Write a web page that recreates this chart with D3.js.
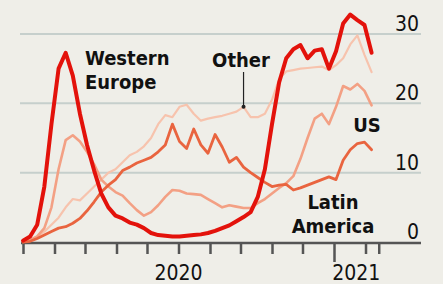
<!DOCTYPE html>
<html>
<head>
<meta charset="utf-8">
<script src="https://cdn.jsdelivr.net/npm/d3@7"></script>
<style>
  html, body { margin: 0; padding: 0; background: #efeee8; }
  svg { display: block; }
  text { font-family: "Liberation Sans Narrow", "DejaVu Sans Condensed", "Liberation Sans", sans-serif; }
</style>
</head>
<body>
<svg width="443" height="284"></svg>
<script>
// weekly values, starting 1 Mar 2020
var weeks = 50;
var westernEurope = [0.2, 0.8, 2.5, 8, 17, 25, 27.3, 24, 18.5, 14, 10.3, 7, 5, 3.8, 3.4,
  2.8, 2.5, 2.0, 1.3, 1.0, 0.9, 0.8, 0.8, 0.9, 1.0, 1.1, 1.3, 1.6, 2.0, 2.4, 3.0,
  3.6, 4.3, 6.5, 10.5, 17, 23, 26.5, 27.8, 28.4, 26.5, 27.6, 27.8, 25, 27.5, 31.5,
  32.8, 32, 31.3, 27.3];
var other = [0, 0.3, 0.8, 1.5, 2.5, 3.5, 5, 6.2, 6, 7, 8, 9, 10, 10.5, 11.5,
  12.5, 13, 13.8, 15, 17, 18.3, 18, 19.5, 19.8, 18.5, 17.5, 17.8, 18, 18.2, 18.5, 18.8,
  19.5, 18, 18, 18.5, 20.5, 23.5, 24.6, 24.8, 25, 25.1, 25.2, 25.3, 24.8, 25.5, 26.5,
  28.5, 29.8, 27, 24.5];
var us = [0, 0.3, 0.8, 2, 5, 10.5, 14.7, 15.4, 14.5, 13, 11.2, 9, 8, 7.2, 6.7,
  5.6, 4.6, 3.8, 4.3, 5.3, 6.5, 7.5, 7.4, 7, 6.9, 6.8, 6.2, 5.6, 5, 5.3, 5.1,
  4.9, 4.9, 5.6, 6.2, 7, 7.8, 8.5, 9.5, 12, 15, 17.8, 18.5, 17, 19.5, 22.5,
  22, 22.8, 21.8, 19.7];
var latinAmerica = [0, 0.1, 0.5, 1, 1.5, 2, 2.2, 2.7, 3.4, 4.5, 5.8, 7.2, 8.2, 9, 10.3,
  10.8, 11.4, 11.8, 12.2, 13, 14, 17, 14.5, 13.5, 16.3, 14, 12.8, 15.5, 13.7, 11.5, 12.2,
  10.8, 10, 9.3, 8.6, 8, 8.2, 8.3, 7.5, 7.8, 8.2, 8.6, 9, 9.4, 9, 11.8,
  13.3, 14.2, 14.4, 13.3];
var yTicks = [0, 10, 20, 30];
var years = ["2020", "2021"];

var start = new Date(2020, 2, 1);
var dates = d3.range(weeks).map(function(i) { return d3.timeDay.offset(start, 7 * i); });
var axisEnd = new Date(2021, 1, 14);

var svg = d3.select("svg");

var x = d3.scaleTime()
  .domain([start, new Date(2021, 0, 1)])
  .range([23, 334]);
var y = d3.scaleLinear()
  .domain([0, 30])
  .range([242, 34]);

// gridlines
svg.selectAll(".grid")
  .data(yTicks.filter(function(d) { return d > 0; }))
  .enter().append("line")
  .attr("x1", 20).attr("x2", 421)
  .attr("y1", function(d) { return y(d); })
  .attr("y2", function(d) { return y(d); })
  .attr("stroke", "#c6cfcc")
  .attr("stroke-width", 2);

// y labels on the right
svg.selectAll(".ylab")
  .data(yTicks)
  .enter().append("text")
  .attr("x", 419)
  .attr("y", function(d) { return y(d) - 3; })
  .attr("text-anchor", "end")
  .attr("font-size", 21)
  .attr("fill", "#111")
  .text(function(d) { return d; });

// x axis
var tickDates = d3.timeMonth.range(start, new Date(2021, 1, 2)).concat([axisEnd]);
var xAxis = d3.axisBottom(x)
  .tickValues(tickDates)
  .tickSize(11)
  .tickFormat("");
var ax = svg.append("g")
  .attr("transform", "translate(0,243)")
  .call(xAxis);
ax.select(".domain").remove();
ax.selectAll(".tick line")
  .attr("stroke", "#555")
  .attr("stroke-width", 2.5)
  .attr("y2", function(d) { return d.getMonth() === 0 ? 19 : 11; });
svg.append("line")
  .attr("x1", 21).attr("x2", 421)
  .attr("y1", 243).attr("y2", 243)
  .attr("stroke", "#555")
  .attr("stroke-width", 2.5);

// year labels
var yearSpans = [[start, new Date(2021, 0, 1)], [new Date(2021, 0, 1), axisEnd]];
svg.selectAll(".year")
  .data(years)
  .enter().append("text")
  .attr("x", function(d, i) { return (x(yearSpans[i][0]) + x(yearSpans[i][1])) / 2; })
  .attr("y", 280)
  .attr("text-anchor", "middle")
  .attr("font-size", 21)
  .attr("fill", "#111")
  .text(function(d) { return d; });

var line = d3.line()
  .x(function(d, i) { return x(dates[i]); })
  .y(function(d) { return y(d); });

var series = [
  { values: other, color: "#f7c3ad", width: 2.2 },
  { values: us, color: "#f3a084", width: 2.6 },
  { values: latinAmerica, color: "#e9643f", width: 2.8 },
  { values: westernEurope, color: "#e3120b", width: 4 }
];
svg.selectAll(".series")
  .data(series)
  .enter().append("path")
  .attr("d", function(d) { return line(d.values); })
  .attr("fill", "none")
  .attr("stroke", function(d) { return d.color; })
  .attr("stroke-width", function(d) { return d.width; })
  .attr("stroke-linejoin", "round")
  .attr("stroke-linecap", "round");

// labels
function label(lines, lx, ly, anchor) {
  var t = svg.append("text")
    .attr("x", lx).attr("y", ly)
    .attr("text-anchor", anchor)
    .attr("font-size", 20)
    .attr("font-weight", "bold")
    .attr("fill", "#111");
  lines.forEach(function(s, i) {
    t.append("tspan").attr("x", lx).attr("dy", i === 0 ? 0 : 24).text(s);
  });
}
label(["Western", "Europe"], 85, 65, "start");
label(["Other"], 241, 67, "middle");
label(["US"], 367, 132, "middle");
label(["Latin", "America"], 333, 209, "middle");

// pointer for Other
var px = x(dates[31]);
svg.append("line")
  .attr("x1", px).attr("x2", px)
  .attr("y1", 72).attr("y2", y(other[31]))
  .attr("stroke", "#222").attr("stroke-width", 1.2);
svg.append("circle")
  .attr("cx", px).attr("cy", y(other[31]))
  .attr("r", 2).attr("fill", "#222");
</script>
</body>
</html>
